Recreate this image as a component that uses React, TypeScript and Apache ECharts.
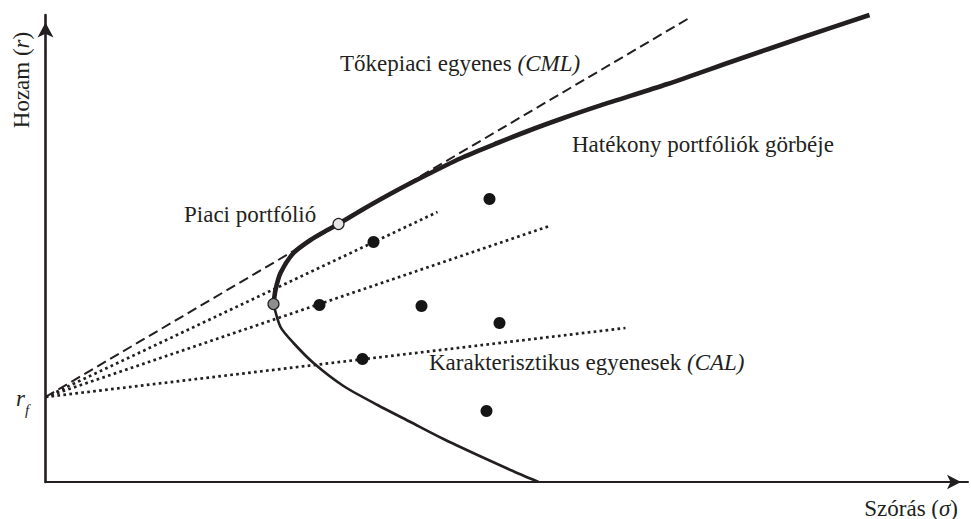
import React, { useEffect, useRef } from "react";
import * as echarts from "echarts";

// Risk-free rate (value on the return axis)
const riskFree = 4.25;

// Efficient frontier: lower (inefficient) branch, from the σ axis up to the minimum-variance point
const frontierLower: [number, number][] = [
  [24.65, 0], [23.25, 0.6], [21.6, 1.35], [19.9, 2.15], [18.25, 3.0], [16.6, 3.85],
  [14.9, 4.8], [13.4, 5.95], [12.4, 6.95], [11.75, 7.75], [11.4, 8.9],
];
// Efficient frontier: upper (efficient) branch
const frontierUpper: [number, number][] = [
  [11.4, 8.9], [11.5, 9.6], [11.75, 10.45], [12.4, 11.45], [13.25, 12.1], [14.1, 12.6],
  [14.65, 12.9], [15.9, 13.65], [17.6, 14.6], [19.25, 15.45], [20.9, 16.25], [22.6, 16.95],
  [24.25, 17.6], [25.9, 18.2], [27.75, 18.83], [31.1, 19.9], [34.4, 21.05], [37.75, 22.2], [41.2, 23.35],
];
// Individual assets
const assets: [number, number][] = [
  [22.2, 14.15], [16.4, 12.0], [13.7, 8.85], [18.8, 8.8], [22.7, 7.95], [15.85, 6.15], [22.05, 3.55],
];
const minVariancePortfolio: [number, number] = [11.4, 8.9];
const marketPortfolio: [number, number] = [14.65, 12.9];
// End points of the lines drawn from the risk-free rate
const cmlEnd: [number, number] = [32.1, 23.15];
const calEnds: [number, number][] = [[19.6, 13.5], [25.2, 12.8], [29.0, 7.7]];

const INK = "#231f20";
const FAMILY = "Liberation Serif";
const SIZE = 23;
const F = (size: number, italic = false) => `${italic ? "italic" : "normal"} normal ${size}px "${FAMILY}", serif`;

export default function App() {
  const ref = useRef<HTMLDivElement>(null);
  useEffect(() => {
    const chart = echarts.init(ref.current!, undefined, { renderer: "svg" });
    const italic = { font: F(SIZE, true), fontStyle: "italic", fontFamily: FAMILY, fontSize: SIZE, fill: INK };
    const txt = (text: string, x: number, y: number, extra: any = {}) => ({
      type: "text",
      x,
      y,
      ...extra,
      style: {
        text,
        font: F(SIZE),
        fontFamily: FAMILY,
        fontSize: SIZE,
        fill: INK,
        verticalAlign: "middle",
        align: "left",
        rich: { i: italic },
        ...(extra.style || {}),
      },
    });
    const calSeries = calEnds.map((end) => ({
      type: "line",
      data: [[0, riskFree], end],
      symbol: "none",
      lineStyle: { color: INK, width: 2.7, type: [2.7, 3.3] },
      z: 2,
    }));
    chart.setOption({
      animation: false,
      textStyle: { fontFamily: FAMILY },
      grid: { left: 45.5, top: 15, width: 922.5, height: 467, containLabel: false },
      xAxis: {
        type: "value",
        min: 0,
        max: 46.125,
        axisLine: {
          show: true,
          lineStyle: { color: INK, width: 2 },
          symbol: ["none", "arrow"],
          symbolSize: [11, 14],
          symbolOffset: [0, -7],
        },
        axisTick: { show: false },
        axisLabel: { show: false },
        splitLine: { show: false },
      },
      yAxis: {
        type: "value",
        min: 0,
        max: 23.35,
        axisLine: {
          show: true,
          lineStyle: { color: INK, width: 2.6 },
          symbol: ["none", "arrow"],
          symbolSize: [12, 15],
          symbolOffset: [0, -7.5],
        },
        axisTick: { show: false },
        axisLabel: { show: false },
        splitLine: { show: false },
      },
      series: [
        {
          type: "line",
          data: [[0, riskFree], cmlEnd],
          symbol: "none",
          lineStyle: { color: INK, width: 2, type: [10, 5] },
          z: 2,
        },
        ...calSeries,
        {
          type: "line",
          data: frontierLower,
          symbol: "none",
          smooth: 0.25,
          clip: false,
          lineStyle: { color: INK, width: 2.6 },
          z: 3,
        },
        {
          type: "line",
          data: frontierUpper,
          symbol: "none",
          smooth: 0.25,
          clip: false,
          lineStyle: { color: INK, width: 4.6, cap: "butt" },
          z: 3,
        },
        {
          type: "scatter",
          data: assets,
          symbolSize: 12,
          itemStyle: { color: "#151515", opacity: 1 },
          z: 4,
        },
        {
          type: "scatter",
          data: [minVariancePortfolio],
          symbolSize: 11,
          itemStyle: { color: "#8e8e8e", borderColor: INK, borderWidth: 1.2, opacity: 1 },
          z: 5,
        },
        {
          type: "scatter",
          data: [marketPortfolio],
          symbolSize: 11,
          itemStyle: { color: "#e6e6e6", borderColor: INK, borderWidth: 1.2, opacity: 1 },
          z: 5,
        },
      ],
      graphic: [
        txt("Tőkepiaci egyenes {i|(CML)}", 340, 63),
        txt("Hatékony portfóliók görbéje", 572, 144),
        txt("Piaci portfólió", 184, 214),
        txt("Karakterisztikus egyenesek {i|(CAL)}", 429, 362),
        txt("Szórás ({j|σ})", 958, 508, {
          style: {
            align: "right",
            lineHeight: 20,
            rich: { j: { ...italic, lineHeight: 20 } },
          },
        }),
        txt("Hozam ({i|r})", 21, 80, { rotation: Math.PI / 2, style: { align: "center" } }),
        txt("{r|r}{f|f}", 16, 402, {
          style: {
            rich: {
              r: { font: F(SIZE, true), fontStyle: "italic", fontFamily: FAMILY, fontSize: SIZE, fill: INK, lineHeight: 31, verticalAlign: "top" },
              f: { font: F(15, true), fontStyle: "italic", fontFamily: FAMILY, fontSize: 15, fill: INK, lineHeight: 16, verticalAlign: "bottom" },
            },
          },
        }),
      ],
    });
    return () => chart.dispose();
  }, []);
  return (
    <div
      ref={ref}
      style={{ position: "fixed", left: 0, top: 0, width: 971, height: 519, background: "#fff" }}
    />
  );
}
